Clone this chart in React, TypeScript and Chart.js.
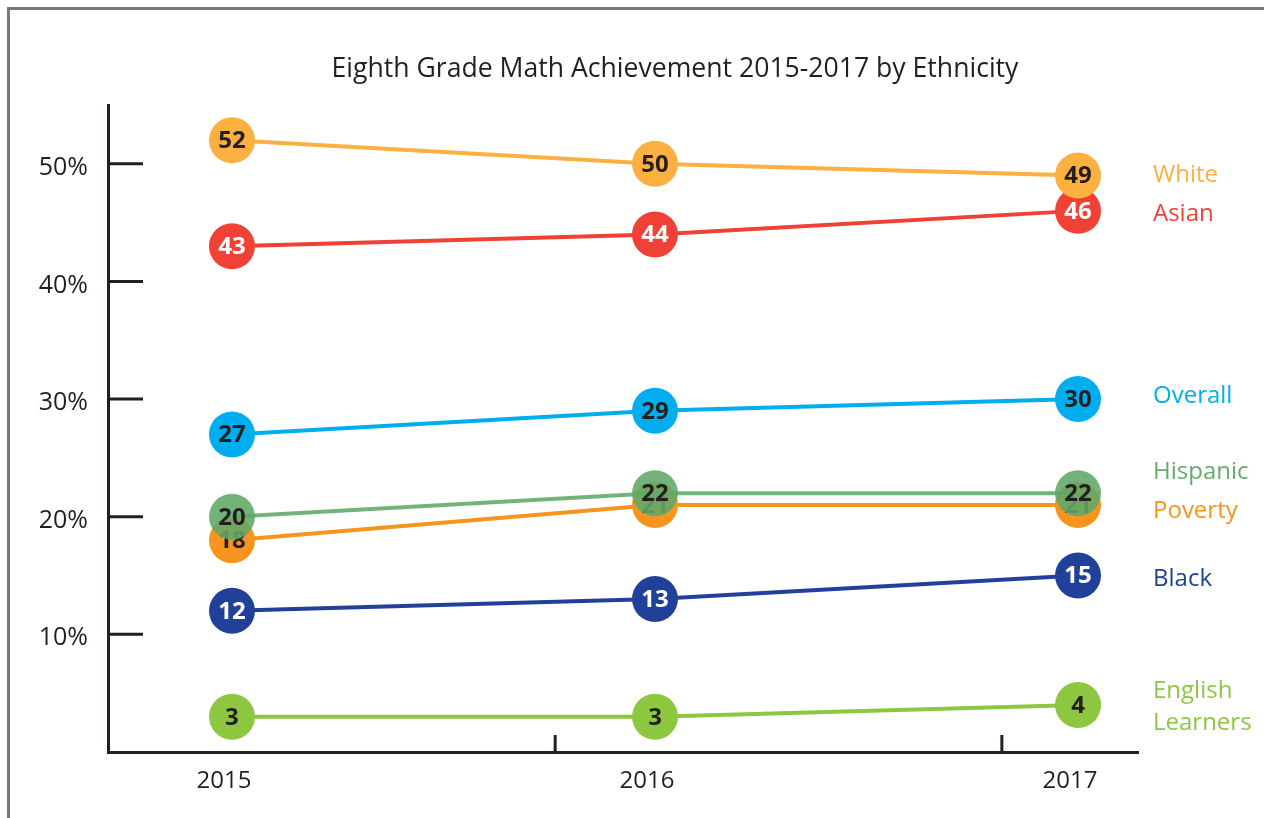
import React, { useEffect, useRef } from "react";
import { Chart, registerables } from "chart.js";

Chart.register(...registerables);

const TITLE = "Eighth Grade Math Achievement 2015-2017 by Ethnicity";
const CATEGORIES = ["2015", "2016", "2017"];
const Y_TICKS = [10, 20, 30, 40, 50];
const X_DIVIDERS = [0.764, 1.82];

const SERIES_NAMES = ["White", "Asian", "Overall", "Hispanic", "Poverty", "Black", "English Learners"];
const WHITE = [52, 50, 49];
const ASIAN = [43, 44, 46];
const OVERALL = [27, 29, 30];
const HISPANIC = [20, 22, 22];
const POVERTY = [18, 21, 21];
const BLACK = [12, 13, 15];
const ENGLISH_LEARNERS = [3, 3, 4];

const SERIES_VALUES = [WHITE, ASIAN, OVERALL, HISPANIC, POVERTY, BLACK, ENGLISH_LEARNERS];

// styles
const SERIES_COLORS = ["#fbb040", "#ef4136", "#00aeef", "rgba(96,168,104,0.88)", "#f7941d", "#21409a", "#8dc63f"];
const LABEL_TEXT_COLORS = ["#fbb040", "#ef4136", "#00aeef", "#68ab6e", "#f7941d", "#21409a", "#8dc63f"];
const VALUE_TEXT_COLORS = ["#231f20", "#ffffff", "#231f20", "#231f20", "#231f20", "#ffffff", "#231f20"];
const NAME_OFFSETS = [[0], [3], [-3], [-21], [6], [4], [-14, 18]];
const FONT = "'Open Sans', 'Noto Sans', sans-serif";
const INK = "#231f20";

const overlayPlugin = {
  id: "overlay",
  afterDatasetDraw(chart: any, args: any) {
    const i = args.index;
    const meta = chart.getDatasetMeta(i);
    const ctx = chart.ctx;
    ctx.save();
    ctx.font = `bold 24px ${FONT}`;
    ctx.textAlign = "center";
    ctx.textBaseline = "middle";
    ctx.fillStyle = VALUE_TEXT_COLORS[i];
    meta.data.forEach((pt: any, j: number) => {
      ctx.fillText(String(SERIES_VALUES[i][j]), pt.x, pt.y + 1);
    });
    ctx.restore();
  },
  afterDraw(chart: any) {
    const ctx = chart.ctx;
    const area = chart.chartArea;
    const ys = chart.scales.y;
    const xs = chart.scales.x;
    ctx.save();
    ctx.strokeStyle = INK;
    ctx.lineWidth = 3;
    Y_TICKS.forEach((v) => {
      const y = ys.getPixelForValue(v);
      ctx.beginPath();
      ctx.moveTo(area.left, y);
      ctx.lineTo(area.left + 35, y);
      ctx.stroke();
    });
    X_DIVIDERS.forEach((v) => {
      const x = xs.getPixelForValue(v);
      ctx.beginPath();
      ctx.moveTo(x, area.bottom);
      ctx.lineTo(x, area.bottom - 17);
      ctx.stroke();
    });
    ctx.fillStyle = INK;
    ctx.font = `26.6px ${FONT}`;
    ctx.textAlign = "center";
    ctx.textBaseline = "middle";
    ctx.fillText(TITLE, 675, 69);
    ctx.font = `24px ${FONT}`;
    ctx.textAlign = "left";
    SERIES_NAMES.forEach((name, i) => {
      const last = SERIES_VALUES[i][SERIES_VALUES[i].length - 1];
      const baseY = ys.getPixelForValue(last);
      const lines = name === "English Learners" ? ["English", "Learners"] : [name];
      ctx.fillStyle = LABEL_TEXT_COLORS[i];
      lines.forEach((ln, k) => {
        ctx.fillText(ln, area.right + 15, baseY + NAME_OFFSETS[i][k]);
      });
    });
    ctx.restore();
  },
};

export default function App() {
  const ref = useRef<HTMLCanvasElement>(null);
  useEffect(() => {
    const canvas = ref.current!;
    const chart = new Chart(canvas, {
      type: "line",
      data: {
        datasets: SERIES_NAMES.map((name, i) => ({
          label: name,
          data: SERIES_VALUES[i].map((v, j) => ({ x: j, y: v })),
          borderColor: SERIES_COLORS[i],
          backgroundColor: SERIES_COLORS[i],
          pointBackgroundColor: SERIES_COLORS[i],
          borderWidth: 4,
          pointRadius: 23,
          pointBorderWidth: 0,
          pointHoverRadius: 23,
          tension: 0,
          clip: false as any,
        })),
      },
      options: {
        animation: false,
        responsive: false,
        events: [],
        layout: { padding: { top: 105, right: 126, left: 0, bottom: 0 } },
        plugins: { legend: { display: false }, title: { display: false }, tooltip: { enabled: false } },
        scales: {
          x: {
            type: "linear",
            min: -0.2931,
            max: 2.1418,
            afterBuildTicks: (axis: any) => {
              axis.ticks = CATEGORIES.map((_, i) => ({ value: i }));
            },
            afterFit: (s: any) => {
              s.height = 66;
            },
            grid: { drawOnChartArea: false, drawTicks: false },
            border: { display: true, color: INK, width: 3 },
            ticks: {
              callback: (v: any) => CATEGORIES[v as number],
              font: { family: FONT, size: 24 },
              color: INK,
              padding: 15,
              labelOffset: -8,
              maxRotation: 0,
              autoSkip: false,
            },
          },
          y: {
            min: 0,
            max: 55,
            afterBuildTicks: (axis: any) => {
              axis.ticks = Y_TICKS.map((v) => ({ value: v }));
            },
            afterFit: (s: any) => {
              s.width = 108;
            },
            grid: { drawOnChartArea: false, drawTicks: false },
            border: { display: true, color: INK, width: 3 },
            ticks: {
              callback: (v: any) => `${v}%`,
              font: { family: FONT, size: 25 },
              color: INK,
              padding: 20,
              labelOffset: 4,
            },
          },
        },
      },
      plugins: [overlayPlugin],
    });
    return () => chart.destroy();
  }, []);

  return (
    <div style={{ position: "absolute", left: 0, top: 0, width: 1264, height: 818, overflow: "hidden", background: "#fff" }}>
      <div
        style={{
          position: "absolute",
          left: 7,
          top: 7,
          width: 1400,
          height: 1000,
          border: "3px solid #77787b",
          boxSizing: "border-box",
        }}
      />
      <canvas ref={ref} width={1264} height={818} style={{ position: "absolute", left: 0, top: 0 }} />
    </div>
  );
}
